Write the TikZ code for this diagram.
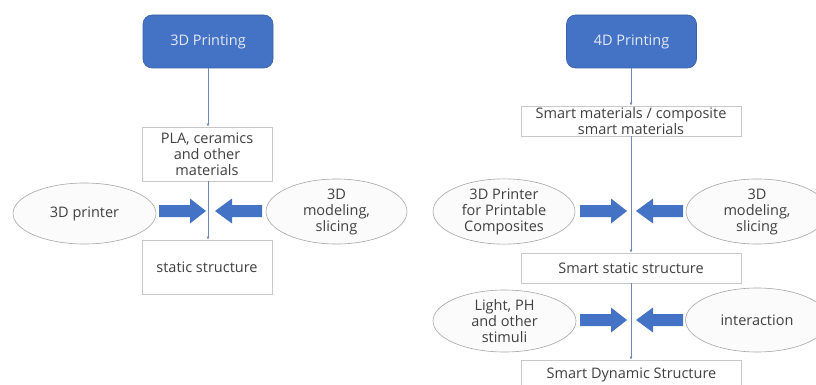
\documentclass[tikz,border=0pt]{standalone}
\usepackage{fontspec}
\setmainfont{Open Sans}
\usetikzlibrary{shapes.geometric,arrows.meta}
\definecolor{hdblue}{HTML}{4472C4}
\definecolor{txtgray}{HTML}{404040}
\definecolor{boxgray}{HTML}{C8C8C8}
\definecolor{ellgray}{HTML}{A6A6A6}
\definecolor{linkblue}{HTML}{7088B8}
\tikzset{
  every node/.style={font=\fontsize{14.5}{16}\selectfont, text=txtgray, align=center},
  header/.style={draw=hdblue!85!black, line width=0.6pt, fill=hdblue, rounded corners=9pt,
    minimum width=130pt, minimum height=53pt, text=white!85!hdblue},
  stepbox/.style={draw=boxgray, line width=0.7pt, fill=white, inner sep=1pt},
  oval/.style={ellipse, draw=ellgray, line width=0.6pt, fill=gray!3, inner sep=0pt},
  conn/.style={draw=linkblue, line width=0.8pt, -{Latex[length=3pt,width=3pt]}},
  blk/.style={fill=hdblue},
  rblk/.pic={\fill[blk] (0,-6) -- (31,-6) -- (31,-12.5) -- (47,0) -- (31,12.5) -- (31,6) -- (0,6) -- cycle;},
  lblk/.pic={\fill[blk] (0,-6) -- (-30,-6) -- (-30,-12.5) -- (-47,0) -- (-30,12.5) -- (-30,6) -- (0,6) -- cycle;},
}
\begin{document}
\begin{tikzpicture}[x=1pt,y=-1pt]
\useasboundingbox (0,0) rectangle (816,385);

% ---- 3D printing chain ----
\node[header] (p3) at (208,41.5) {3D Printing};
\node[stepbox, minimum width=130pt, minimum height=54pt] (pla) at (207,154) {PLA, ceramics\\and other\\materials};
\node[stepbox, minimum width=130pt, minimum height=54pt] (stat) at (207,267) {static structure};
\node[oval, minimum width=143pt, minimum height=61pt] (prn) at (84.5,213.5) {3D printer};
\node[oval, minimum width=141pt, minimum height=61pt] (mdl) at (336.5,211.5) {3D\\modeling,\\slicing};

\draw[conn] (p3.south -| 208,0) -- (pla.north -| 208,0);
\draw[conn] (pla.south -| 208,0) -- (stat.north -| 208,0);

\pic at (159,211) {rblk};
\pic at (262,211) {lblk};

% ---- 4D printing chain ----
\node[header] (p4) at (631.5,41.5) {4D Printing};
\node[stepbox, minimum width=220pt, minimum height=30pt] (smat) at (631,121) {Smart materials / composite\\smart materials};
\node[stepbox, minimum width=220pt, minimum height=30pt] (sst) at (631,268) {Smart static structure};
\node[stepbox, minimum width=220pt, minimum height=30pt] (sdyn) at (631.5,375) {Smart Dynamic Structure};
\node[oval, minimum width=142pt, minimum height=62pt] (cprn) at (504,211.5) {3D Printer\\for Printable\\Composites};
\node[oval, minimum width=142pt, minimum height=62pt] (cmdl) at (757,211.5) {3D\\modeling,\\slicing};
\node[oval, minimum width=143pt, minimum height=62pt] (stim) at (504.5,321) {Light, PH\\and other\\stimuli};
\node[oval, minimum width=143pt, minimum height=64pt] (intr) at (757,320) {interaction};

\draw[conn] (p4.south -| 631,0) -- (smat.north -| 631,0);
\draw[conn] (smat.south -| 631,0) -- (sst.north -| 631,0);
\draw[conn] (sst.south -| 631,0) -- (sdyn.north -| 631,0);

\pic at (580,211) {rblk};
\pic at (683,211) {lblk};
\pic at (580,320) {rblk};
\pic at (683,320) {lblk};
\end{tikzpicture}
\end{document}
